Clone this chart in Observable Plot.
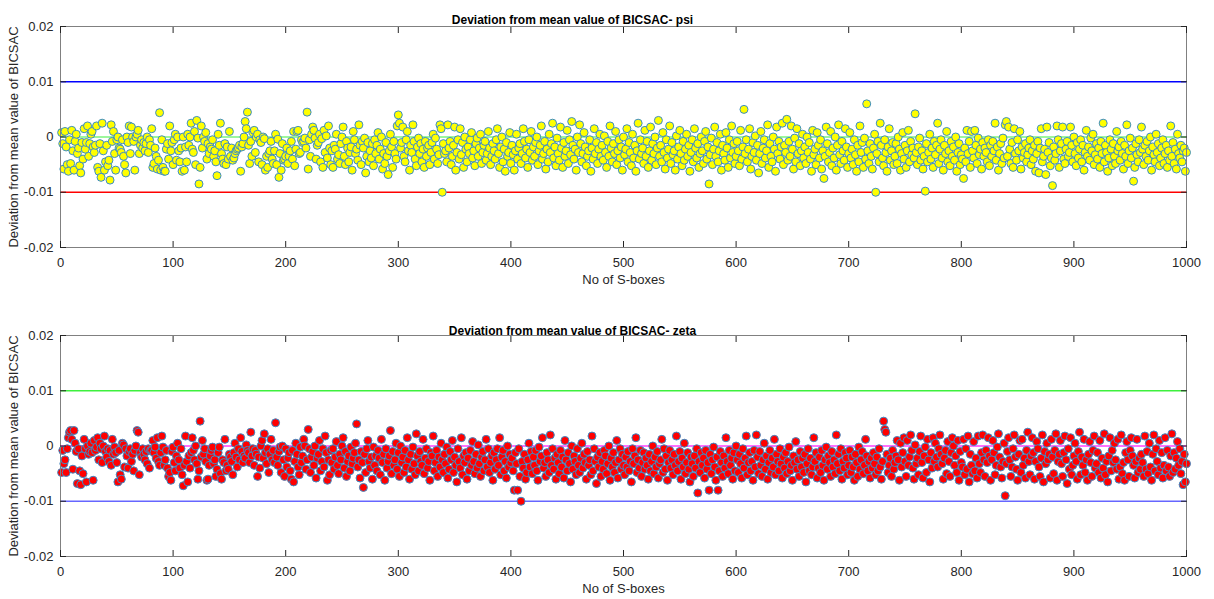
<!DOCTYPE html>
<html><head><meta charset="utf-8">
<script src="https://cdn.jsdelivr.net/npm/d3@7"></script>
<script src="https://cdn.jsdelivr.net/npm/@observablehq/plot@0.6"></script>
<style>
body{margin:0;background:#fff;font-family:Arial,"Liberation Sans",sans-serif;}
#chart svg{display:block;}
</style>
</head><body><div id="chart"></div>
<script>
// Deviation values, in units of 1e-4 (i.e. 10 = 0.001), S-box 1..1000
const psiDevE4 = [
8,-12,-58,10,-18,-50,-62,-5,-48,12,-25,-60,-8,5,-30,-20,-52,-65,-10,-40,
15,-22,-10,20,-35,-12,5,10,-18,-28,-15,20,-55,-62,-12,-73,25,-25,-60,-45,
-15,-52,-42,-78,22,-8,10,-30,-60,-5,0,-20,-22,-28,-5,-35,-50,-65,0,-10,
20,-30,18,0,-8,-60,0,5,12,-30,-15,-5,-20,-10,-25,-12,0,-28,-5,-15,
15,-55,-48,-20,-35,-58,-42,44,-60,-5,-55,-62,-62,-22,-12,-40,20,-25,-10,-50,
-5,5,-42,0,-25,-45,-20,-62,0,-60,-18,-45,5,-15,0,25,-22,-28,10,-50,
30,-2,-85,-55,20,-20,0,-8,8,-40,-12,-30,-18,-22,-5,-35,-25,-45,-70,5,
-15,25,-30,-40,-48,-12,-50,-18,-40,10,-35,-20,-42,-38,-30,-25,-22,-20,-15,-62,
-18,-12,0,28,15,45,-15,-48,-8,-35,8,12,-28,0,5,-45,-5,-10,-50,0,
-3,-60,-35,-55,-30,-25,-8,-40,-48,-25,5,-50,-4,-73,-30,-60,-12,-42,-40,-35,
-20,-48,-35,-25,-8,-40,10,-52,-22,10,12,-30,-28,-5,-10,-8,-2,-20,45,-58,
-5,-35,5,18,12,-2,-40,-15,-10,5,-45,-3,-55,12,-28,2,-38,20,-20,-50,
-25,-55,-15,-22,5,-40,-32,-48,-12,0,18,-35,-50,-8,-20,-45,-28,-18,-60,10,
-5,-30,-22,-42,22,-15,-50,-8,-20,-2,-65,-35,-10,-45,-25,-38,-12,-52,-5,-30,
-15,8,-40,-22,0,-58,-30,-48,-10,-35,-68,-25,5,-18,-55,-8,-30,-40,20,40,
25,-20,-10,18,-35,-45,-5,10,-25,-60,-15,-28,22,-8,-40,-52,-18,-2,-30,-12,
-45,-22,-55,-8,-35,-20,-15,-50,-28,-10,5,-40,-2,-22,-48,-32,22,15,-100,-12,
-30,-25,-45,22,-20,-8,-50,-35,-15,18,-60,-28,-5,-40,15,-32,-10,-55,0,-22,
-45,-18,-30,-5,8,-38,-25,-52,-12,-2,-35,-20,5,-48,-28,-15,-8,-42,-30,10,
-20,-50,-35,-12,-25,-40,-5,15,-30,-55,-18,0,-45,-22,-62,-10,-35,-28,8,-48,
-15,-32,-60,-25,5,-40,-20,-12,-48,-30,15,-8,-38,-22,-55,-5,-28,10,-42,-18,
-35,-10,0,-50,-25,-15,20,-40,-30,-8,-58,-22,-45,5,-28,-12,25,-38,-18,-52,
-2,-30,-42,18,-20,-55,-10,-35,-25,12,-48,-5,-32,28,-15,-40,-22,-60,0,-28,
22,-12,-45,-30,8,-18,-52,-35,-25,-5,-62,-20,-40,15,-30,-10,-48,-22,5,-35,
-15,-42,2,-28,-55,-8,-35,20,-20,-45,-12,-30,10,-50,-25,-5,-38,-18,-60,0,
-32,-22,15,-45,-10,-28,-52,5,-38,-15,-62,-25,25,-40,-5,-30,-20,-48,12,-35,
-8,-55,-25,18,-42,-12,-30,0,-50,-20,30,-35,-15,-45,8,-28,-58,-5,-38,-22,
20,-48,-10,-32,-25,-60,2,-40,-18,12,-30,-52,-8,-42,-22,5,-35,-15,-62,-28,
-5,-45,15,-20,-38,-12,-55,-30,0,-25,-48,-8,10,-40,-18,-85,-32,-2,-50,-22,
18,-35,-10,-45,-25,5,-60,-15,-30,-42,8,-20,-55,-5,-38,20,-28,-12,-48,-35,
-8,-25,-52,12,-40,-18,50,-30,-5,-45,-22,15,-58,-35,-10,-28,2,-42,-15,-65,
-30,10,-48,-20,-5,-38,-25,22,-55,-12,-35,-45,0,-22,-62,18,-30,-8,-40,-18,
25,-50,-15,-28,32,-42,-8,-35,20,-22,-58,-2,-45,15,-30,-12,-52,-25,5,-38,
-18,-48,0,-28,-10,-40,-62,12,-32,-22,-50,8,-15,-38,-5,-58,-25,-75,-35,18,
-12,-45,-28,10,-52,-20,-38,0,-60,-15,22,-32,-48,-8,-25,-42,15,-18,-55,-30,
8,-38,-22,-50,-5,-32,-62,-15,-45,20,-28,-10,-55,-2,-40,60,-25,-48,-12,-35,
-58,-20,5,-100,-30,-8,-45,25,-15,-38,-52,-5,-28,-62,-18,15,-42,-25,-10,-50,
-35,-12,-48,0,-22,-60,-30,8,-40,-15,-55,-25,12,-45,-8,-32,-20,-38,42,-28,
-50,-18,-2,-42,-25,-58,-35,-98,-12,-45,-28,5,-40,-20,-55,-8,-32,-15,25,-48,
-22,-5,-38,-60,-15,-30,10,-45,-25,-52,-8,-35,-18,-42,0,-62,-28,-12,-50,-32,
-40,-75,-20,-45,12,-30,-8,-55,10,-25,-38,12,-15,-48,-2,-32,-22,-58,-10,-35,
-20,-28,-45,-5,-52,-15,-35,-8,-25,25,-42,-18,-60,-30,-12,-48,-2,-38,22,28,
-35,18,-22,-48,-10,-55,15,-30,-42,-5,-25,10,-58,-18,-38,-28,-12,-45,-32,-20,
-5,-50,-25,-40,-15,-62,-30,-8,-65,-20,15,-45,-35,-22,-68,18,-28,-10,-52,-38,
-88,-18,-42,-30,20,-5,-55,-25,-12,18,-40,-48,-22,-8,-35,-28,18,-15,-45,0,
-30,-52,-10,-38,-22,-5,-45,-15,-60,-28,12,-35,-18,-42,-2,-25,5,-50,-32,-12,
-40,-20,-55,-8,-30,25,-45,-15,-28,-62,-38,-5,-22,-52,-12,-35,-48,10,-25,-18,
-42,-8,-30,-58,-15,-35,22,-48,-25,-2,-38,-20,-80,-55,-12,-32,-45,-5,-28,18,
-22,-50,-15,-35,-8,-42,-25,0,-60,-18,-32,-45,5,-28,-12,-52,-38,-20,-5,-48,
-30,-15,-55,-25,-42,20,-35,-10,-48,-22,-58,5,-30,-38,-15,-45,-25,-20,-62,-28
];
const zetaDevE4 = [
-48,-8,-32,-25,-48,-5,15,25,28,12,-42,28,5,-10,-68,-5,-45,-70,-18,-50,
12,-5,-65,0,-15,-10,5,-12,-62,10,-8,-2,15,-25,5,-5,-30,0,18,-10,
-20,-5,-28,-8,-35,12,-15,-2,-12,-30,-65,-8,-52,-60,5,2,-38,-5,-18,-40,
-10,-5,-28,-15,-45,-8,0,28,25,-52,-12,-20,-5,-15,-25,-10,-32,-5,-40,-8,
-8,10,-12,-2,-22,15,-28,-35,-12,18,-2,-35,-25,-8,-40,-55,-48,-62,-10,-2,
-30,-45,-18,5,-25,-40,-5,-52,-72,-35,18,-28,-65,-18,-40,-12,15,-8,-25,0,
-32,-60,-45,45,-20,10,-15,-5,-28,-62,-60,-35,-18,-8,-2,-32,-25,-55,-42,-12,
-2,-50,-60,-25,-30,12,-45,-35,-42,-15,-20,-28,-52,-12,5,-20,-38,-5,-25,15,
-10,-30,-18,-22,2,-8,-12,-30,25,-18,-5,-35,-8,-15,-55,-20,-40,0,10,-22,
22,-12,-32,-5,-48,-15,12,-25,-8,-30,42,-20,-35,-10,-2,-48,0,-25,-55,-5,
-38,-22,-12,-45,-60,-8,-65,-28,5,-15,-38,-52,-2,-30,-18,12,0,-42,-25,30,
-5,-48,-20,-10,-35,0,-58,-22,-15,10,-45,-28,-5,-38,18,-12,-62,-25,-52,-8,
-30,-5,-42,-20,8,-35,-50,-15,-25,0,15,-40,-10,-55,-28,-18,-45,-2,-32,-22,
-12,5,40,-38,-25,-58,-10,-30,-75,-15,-48,-5,10,-28,-40,-20,-60,-2,-35,-18,
-45,-8,-22,-52,12,-30,-15,-62,-5,-40,-28,-18,28,-50,-10,-35,-25,5,-42,-12,
-55,0,-30,-20,-48,-8,-38,15,-25,-60,-15,-42,-2,-32,-52,22,-18,-45,-10,-28,
-35,12,-50,-22,-5,-40,-28,-62,-12,-18,18,-45,-30,-8,-55,-20,-38,5,-25,-48,
-15,-32,-2,-58,-42,-10,-25,10,-48,-20,-35,-65,-5,-28,-40,15,-52,-18,-30,-12,
-60,-22,-45,-8,-35,8,-28,-50,-15,-40,2,-32,-55,-20,-10,-45,-25,12,-38,-5,
-48,-30,-18,-62,-12,-42,-25,-5,-35,15,-52,-20,-8,-45,-28,-58,0,-38,-15,-30,
-22,-45,-80,-12,-32,-80,-5,-55,-100,-28,-40,-15,-60,-48,-25,5,-38,-10,-50,-20,
-35,-8,-45,-62,-2,-28,-18,15,-40,-30,-55,-12,-25,-48,20,-35,-5,-42,-22,-60,
-15,-30,-50,-8,-38,-20,-58,10,-25,-45,-12,-32,-65,0,-42,-18,-28,-52,-5,-35,
-48,-22,5,-40,-15,-30,-60,-10,-35,-25,-52,18,-45,-5,-28,-68,-20,-38,-12,-55,
-28,-42,-8,-18,-50,-32,0,-62,-22,-38,-12,-48,-30,10,-58,-25,-5,-42,-15,-35,
-52,-20,-38,-10,-45,-28,-65,-5,-32,-18,15,-48,-25,-40,-8,-55,-30,-12,-42,-22,
-35,-60,-15,-45,-28,0,-50,-20,-38,-10,-58,-32,-25,12,-48,-5,-42,-18,-62,-30,
-8,-40,-25,-52,-15,-35,18,-45,-28,-10,-60,-22,-38,5,-50,-30,-12,-42,-65,-20,
-32,-55,-18,-40,-5,-85,-28,-48,-12,-35,-22,-58,-8,-42,-30,-80,-15,-50,-25,-2,
-38,-62,-20,-80,-45,-10,-30,-55,-18,-40,15,-28,-50,-8,-35,-22,-60,-12,-45,0,
-25,-48,-15,-32,-58,-5,-40,-22,18,-52,-30,-12,-45,-28,-62,-8,-38,20,-20,-50,
-10,-35,-55,-25,5,-42,-18,-60,-30,-8,-48,-22,-38,12,-52,-15,-28,-45,-5,-32,
-58,-20,-40,-12,-50,-28,-2,-45,-35,-62,-18,-30,8,-42,-25,-55,-10,-38,-22,-48,
-15,-65,-32,-5,-45,-22,-52,-38,15,-28,-12,-58,-40,-20,-48,-8,-35,-62,-25,-2,
-42,-18,-30,-55,-10,-38,-25,-50,20,-32,-15,-45,-5,-60,-28,-40,-12,-22,-52,-35,
-8,-48,-20,-38,-62,-15,-30,-55,-2,-42,-25,-10,-50,-35,12,-18,-45,-28,-58,-22,
-40,-12,-32,-52,-20,-45,-5,-38,-60,-28,45,30,25,-15,-48,-35,-22,-55,-8,-42,
-30,-18,10,-25,-62,5,-38,-12,15,-28,-55,10,-35,-20,20,-8,-40,-60,2,-32,
-22,-52,-10,18,-30,-58,-18,-2,-48,12,-25,-65,-12,-40,15,-28,5,-20,-38,-5,
20,-15,-32,-60,-22,-8,-50,8,-28,-55,-12,15,0,-35,-18,-48,10,-62,-10,-30,
-38,12,-52,-5,-42,18,-65,-15,-35,-50,8,-45,-22,-58,18,-32,-48,-12,20,-25,
-55,-8,-30,15,-18,-62,-25,10,-12,-52,-35,-2,22,-20,-38,-58,-28,5,-90,-32,
-10,15,-25,-55,-38,-5,20,-20,-42,-62,-15,10,-48,12,-35,-22,-58,-8,25,-28,
-52,-18,15,-12,-60,-28,8,-5,-38,-55,-22,20,-65,-10,-32,5,-25,-15,-58,12,
-20,-50,-8,22,-62,-28,-15,10,-32,-55,-12,18,-25,-68,-5,-42,15,-52,-35,-18,
5,-28,-60,-10,25,-52,-20,-35,12,-48,-25,-62,-15,8,-30,-55,-8,18,-40,-32,
-12,-48,10,-58,-22,-40,22,-52,-28,-65,-18,15,-45,-8,-30,5,-25,-42,12,-60,
-38,20,-50,-30,-62,-12,8,-25,-55,-8,15,-18,-35,-58,-28,12,-48,-22,-42,-15,
-30,-55,18,-42,-10,-50,5,-38,-62,-15,20,-45,-5,-28,-52,10,-40,-12,-58,-35,
15,-45,-8,-38,-55,-18,22,-48,-12,-42,-22,8,-35,-5,-50,-28,-70,-15,-65,-32
];
const xTicks = [0,100,200,300,400,500,600,700,800,900,1000];
const yTicks = [-0.02,-0.01,0,0.01,0.02];
const refLevels = [0.01, 0, -0.01];
const panelTitles = ["Deviation from mean value of BICSAC- psi", "Deviation from mean value of BICSAC- zeta"];
const yLabelText = "Deviation from mean value of BICSAC";
const xLabelText = "No of S-boxes";

function panel(valuesE4, title, lineColors, fill, height, marginTop, titleDy) {
  const table = valuesE4.map((v, i) => ({box: i + 1, dev: v * 1e-4}));
  const frameH = 221;
  return Plot.plot({
    width: 1214, height, marginTop, marginBottom: height - marginTop - frameH,
    marginLeft: 60, marginRight: 28,
    style: {fontFamily: "Arial, 'Liberation Sans', sans-serif", fontSize: "13px", color: "#262626", background: "#fff"},
    x: {domain: [0, 1000]},
    y: {domain: [-0.02, 0.02]},
    marks: [
      ...refLevels.map((lv, i) => Plot.ruleY([lv], {stroke: lineColors[i], strokeWidth: 1.3})),
      Plot.dot(table, {x: "box", y: "dev", r: 4, fill, stroke: "#3a8cc8", strokeWidth: 1}),
      Plot.frame({stroke: "#808080", strokeWidth: 1}),
      Plot.axisX({ticks: xTicks, tickSize: 6, dy: -6, tickFormat: () => "", label: null, stroke: "#262626"}),
      Plot.axisX({anchor: "top", ticks: xTicks, tickSize: 6, dy: 6, tickFormat: () => "", label: null, stroke: "#262626"}),
      Plot.axisX({ticks: xTicks, tickSize: 0, tickPadding: 10, tickFormat: d => String(d), label: null, fill: "#262626", fontSize: 13}),
      Plot.axisY({ticks: yTicks, tickSize: 6, dx: 6, tickFormat: () => "", label: null, stroke: "#262626"}),
      Plot.axisY({anchor: "right", ticks: yTicks, tickSize: 6, dx: -6, tickFormat: () => "", label: null, stroke: "#262626"}),
      Plot.axisY({ticks: yTicks, tickSize: 0, tickPadding: 7, tickFormat: d => String(d), label: null, fill: "#262626", fontSize: 13}),
      Plot.text([title], {frameAnchor: "top", dy: titleDy, dx: -51, fontWeight: "bold", fontSize: 12, fill: "#000"}),
      Plot.text([xLabelText], {frameAnchor: "bottom", dy: 36, fontSize: 13, fill: "#262626"}),
      Plot.text([yLabelText], {frameAnchor: "left", dx: -47, rotate: -90, textAnchor: "middle", fontSize: 13, fill: "#262626"})
    ]
  });
}

const root = document.getElementById("chart");
root.append(panel(psiDevE4, panelTitles[0], ["#0000ff", "#7cf57c", "#ff0000"], "#ffff00", 300, 26, -11));
root.append(panel(zetaDevE4, panelTitles[1], ["#3ef03e", "#ff40ff", "#6666ff"], "#ff0000", 299, 35, -9));
</script>
</body></html>
